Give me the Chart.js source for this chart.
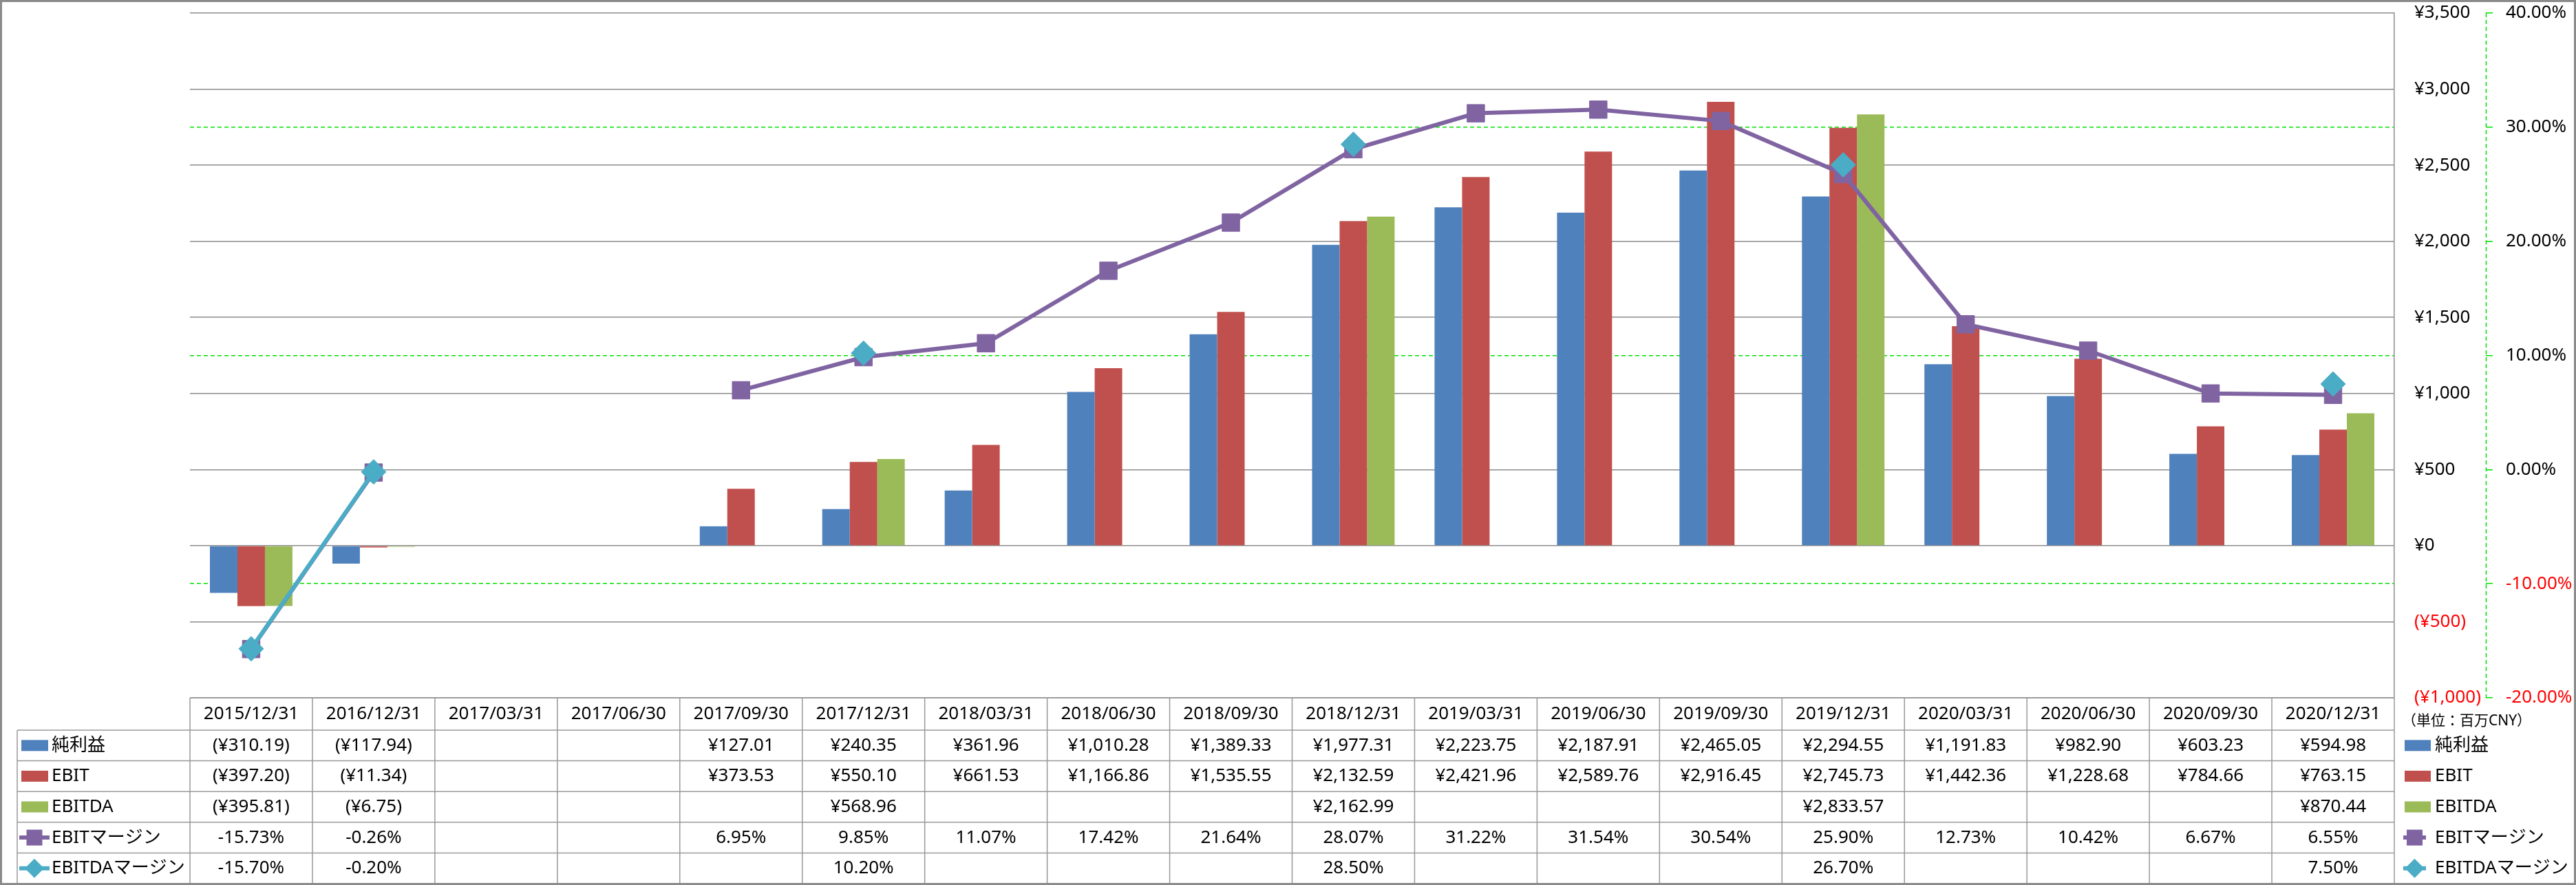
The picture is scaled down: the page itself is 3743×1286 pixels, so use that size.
<!DOCTYPE html>
<html>
<head>
<meta charset="utf-8">
<script src="https://cdn.jsdelivr.net/npm/chart.js@4.4.1/dist/chart.umd.min.js"></script>
<style>
  html, body { margin: 0; padding: 0; background: #fff; }
  canvas { display: block; }
</style>
</head>
<body>
<canvas id="marginChart" width="3743" height="1286"></canvas>
<script>
// Reporting periods (x categories)
const periods = [
  '2015/12/31', '2016/12/31', '2017/03/31', '2017/06/30', '2017/09/30', '2017/12/31',
  '2018/03/31', '2018/06/30', '2018/09/30', '2018/12/31', '2019/03/31', '2019/06/30',
  '2019/09/30', '2019/12/31', '2020/03/31', '2020/06/30', '2020/09/30', '2020/12/31'
];

// Amounts in million CNY
const netIncome = [-310.19, -117.94, null, null, 127.01, 240.35, 361.96, 1010.28, 1389.33,
  1977.31, 2223.75, 2187.91, 2465.05, 2294.55, 1191.83, 982.90, 603.23, 594.98];
const ebit = [-397.20, -11.34, null, null, 373.53, 550.10, 661.53, 1166.86, 1535.55,
  2132.59, 2421.96, 2589.76, 2916.45, 2745.73, 1442.36, 1228.68, 784.66, 763.15];
const ebitda = [-395.81, -6.75, null, null, null, 568.96, null, null, null,
  2162.99, null, null, null, 2833.57, null, null, null, 870.44];

// Margins in %
const ebitMargin = [-15.73, -0.26, null, null, 6.95, 9.85, 11.07, 17.42, 21.64,
  28.07, 31.22, 31.54, 30.54, 25.90, 12.73, 10.42, 6.67, 6.55];
const ebitdaMargin = [-15.70, -0.20, null, null, null, 10.20, null, null, null,
  28.50, null, null, null, 26.70, null, null, null, 7.50];

const unitNote = '（単位：百万CNY）';

const BLUE = '#4F81BD';
const RED = '#C0504D';
const GREEN = '#9BBB59';
const PURPLE = '#8064A2';
const TEAL = '#4BACC6';
const GRID_GREY = '#8c8c8c';
const PCT_GREEN = '#00e000';
const NEG_RED = '#ff0000';
const FONT = '"Noto Sans", "Noto Sans CJK JP", sans-serif';

Chart.defaults.font.family = FONT;
Chart.defaults.font.size = 26;
Chart.defaults.color = '#000';

const money = v => Math.abs(v).toLocaleString('en-US', { minimumFractionDigits: 2, maximumFractionDigits: 2 });
const fmtYen = v => v < 0 ? '(¥' + money(v) + ')' : '¥' + money(v);
const fmtPct = v => v.toFixed(2) + '%';
const fmtAxisYen = v => v < 0 ? '(¥' + (-v).toLocaleString('en-US') + ')' : '¥' + v.toLocaleString('en-US');

// marker / legend key drawing
function drawMarker(ctx, style, x, y, r, color) {
  ctx.fillStyle = color;
  ctx.beginPath();
  if (style === 'rectRot') {
    ctx.moveTo(x - r, y); ctx.lineTo(x, y - r); ctx.lineTo(x + r, y); ctx.lineTo(x, y + r);
    ctx.closePath();
  } else {
    ctx.rect(x - r, y - r, 2 * r, 2 * r);
  }
  ctx.fill();
}

function drawKey(ctx, ds, barX0, barX1, lineX0, lineX1, cy) {
  if (ds.type === 'bar') {
    ctx.fillStyle = ds.backgroundColor;
    ctx.fillRect(barX0, cy - 8, barX1 - barX0, 16);
    return;
  }
  ctx.strokeStyle = ds.borderColor;
  ctx.lineWidth = 6;
  ctx.beginPath();
  ctx.moveTo(lineX0, cy);
  ctx.lineTo(lineX1, cy);
  ctx.stroke();
  const r = ds.pointStyle === 'rectRot' ? 14 : 11.5;
  drawMarker(ctx, ds.pointStyle, (lineX0 + lineX1) / 2, cy, r, ds.borderColor);
}

// vertical axes: keep the plot top/bottom where the reference has them
const noEdgePadding = scale => { scale.paddingTop = 0; scale.paddingBottom = 0; };

// data table under the plot + right-hand legend
const dataTable = {
  id: 'dataTable',
  afterDraw(chart) {
    const { ctx, chartArea: area, scales } = chart;
    const x = scales.x;
    const y1 = scales.y1;
    const colW = (area.right - area.left) / periods.length;
    const headTop = area.bottom;
    const firstRow = headTop + 47;
    const bottom = chart.height - 2;
    const sets = chart.data.datasets;
    const rowH = (bottom - firstRow) / sets.length;

    ctx.save();

    // dashed percent axis line
    ctx.strokeStyle = PCT_GREEN;
    ctx.lineWidth = 1.5;
    ctx.setLineDash([6, 4]);
    ctx.beginPath();
    ctx.moveTo(y1.left + 0.5, area.top);
    ctx.lineTo(y1.left + 0.5, area.bottom);
    ctx.stroke();
    ctx.setLineDash([]);

    // table grid
    ctx.strokeStyle = '#999';
    ctx.lineWidth = 1.5;
    ctx.beginPath();
    ctx.moveTo(area.left, headTop); ctx.lineTo(area.right, headTop);
    for (let r = 0; r < sets.length; r++) {
      const yy = firstRow + r * rowH;
      ctx.moveTo(25, yy); ctx.lineTo(area.right, yy);
    }
    ctx.moveTo(25, firstRow); ctx.lineTo(25, bottom);
    for (let i = 0; i <= periods.length; i++) {
      const xx = area.left + i * colW;
      ctx.moveTo(xx, headTop); ctx.lineTo(xx, bottom);
    }
    ctx.stroke();

    // cell values and keys
    ctx.font = '26px ' + FONT;
    ctx.textBaseline = 'middle';
    sets.forEach((ds, r) => {
      const cy = firstRow + r * rowH + rowH / 2;
      const fmt = ds.type === 'bar' ? fmtYen : fmtPct;
      ctx.fillStyle = '#000';
      ctx.textAlign = 'center';
      ds.data.forEach((v, i) => {
        if (v == null) return;
        ctx.fillText(fmt(v), x.getPixelForValue(i), cy);
      });
      ctx.textAlign = 'left';
      drawKey(ctx, ds, 31, 70, 28, 72, cy);
      ctx.fillStyle = '#000';
      ctx.fillText(ds.label, 75, cy);
      drawKey(ctx, ds, area.right + 15, area.right + 53, area.right + 13, area.right + 46, cy);
      ctx.fillStyle = '#000';
      ctx.fillText(ds.label, area.right + 59, cy);
    });

    // unit note
    ctx.font = '21px ' + FONT;
    ctx.fillText(unitNote, area.right + 11, headTop + 34);

    // outer frame
    ctx.strokeStyle = '#8a8a8a';
    ctx.lineWidth = 3;
    ctx.strokeRect(1.5, 1.5, chart.width - 3, chart.height - 3);
    ctx.restore();
  }
};

new Chart(document.getElementById('marginChart'), {
  data: {
    labels: periods,
    datasets: [
      { type: 'bar', label: '純利益', data: netIncome, backgroundColor: BLUE, yAxisID: 'y', order: 2 },
      { type: 'bar', label: 'EBIT', data: ebit, backgroundColor: RED, yAxisID: 'y', order: 2 },
      { type: 'bar', label: 'EBITDA', data: ebitda, backgroundColor: GREEN, yAxisID: 'y', order: 2 },
      {
        type: 'line', label: 'EBITマージン', data: ebitMargin, yAxisID: 'y1', order: 1,
        borderColor: PURPLE, backgroundColor: PURPLE, borderWidth: 6, tension: 0, spanGaps: false,
        pointStyle: 'rect', pointRadius: 18, pointBorderWidth: 1, pointBackgroundColor: PURPLE
      },
      {
        type: 'line', label: 'EBITDAマージン', data: ebitdaMargin, yAxisID: 'y1', order: 0,
        borderColor: TEAL, backgroundColor: TEAL, borderWidth: 6, tension: 0, spanGaps: false,
        pointStyle: 'rectRot', pointRadius: 18, pointBorderWidth: 1, pointBackgroundColor: TEAL
      }
    ]
  },
  options: {
    responsive: false,
    animation: false,
    devicePixelRatio: 1,
    layout: { padding: { left: 276, top: 19, right: 0, bottom: 0 } },
    datasets: {
      bar: { barPercentage: 1, categoryPercentage: 0.674, borderWidth: 0 },
      line: { clip: false }
    },
    plugins: {
      legend: { display: false },
      tooltip: { enabled: false }
    },
    scales: {
      x: {
        grid: { display: false, drawTicks: false },
        border: { display: false },
        ticks: { autoSkip: false, maxRotation: 0, minRotation: 0, padding: 8, color: '#000' },
        afterFit(scale) { scale.height = 272; }
      },
      y: {
        position: 'right',
        min: -1000,
        max: 3500,
        ticks: {
          stepSize: 500,
          padding: 29,
          color: c => c.tick.value < 0 ? NEG_RED : '#000',
          callback: v => fmtAxisYen(v)
        },
        grid: { color: GRID_GREY, lineWidth: 1.5, drawTicks: false },
        border: { display: true, color: GRID_GREY, width: 1.5 },
        afterFit(scale) { scale.width = 133; noEdgePadding(scale); }
      },
      y1: {
        position: 'right',
        min: -20,
        max: 40,
        ticks: {
          stepSize: 10,
          padding: 19,
          color: c => c.tick.value < 0 ? NEG_RED : '#000',
          callback: v => v.toFixed(2) + '%'
        },
        grid: {
          color: c => c.tick.value % 20 === 0 ? 'rgba(0,0,0,0)' : PCT_GREEN,
          lineWidth: 1.5,
          tickColor: PCT_GREEN,
          tickLength: 10,
          tickWidth: 1.5
        },
        border: { display: false, dash: [6, 4] },
        afterFit(scale) { scale.width = 131; noEdgePadding(scale); }
      }
    }
  },
  plugins: [dataTable]
});
</script>
</body>
</html>
